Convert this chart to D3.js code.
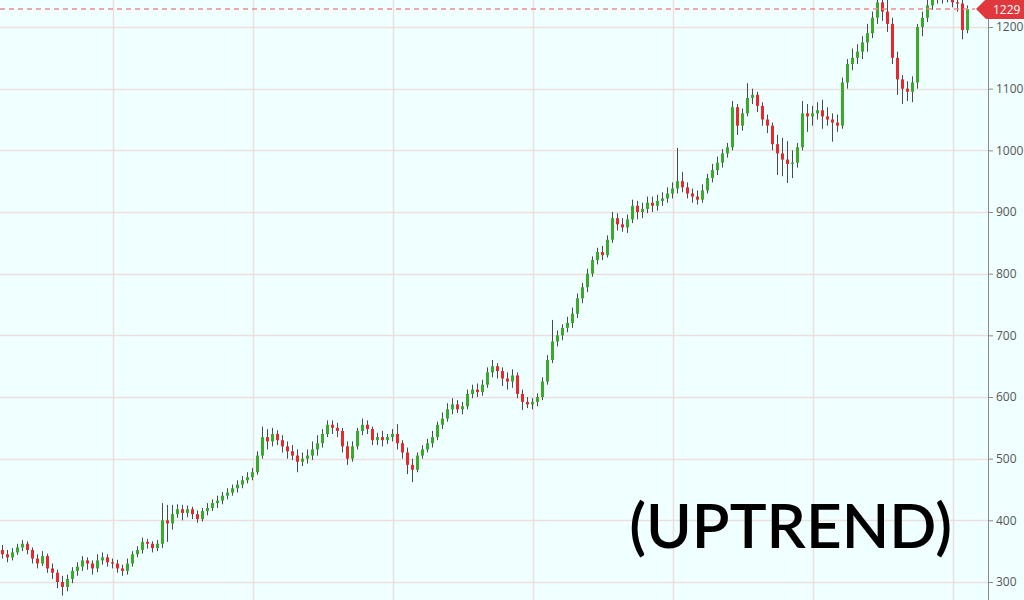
<!DOCTYPE html>
<html><head><meta charset="utf-8">
<script src="https://cdn.jsdelivr.net/npm/d3@7/dist/d3.min.js"></script>
<style>html,body{margin:0;padding:0;background:#f0ffff;overflow:hidden}svg{display:block}</style>
</head><body><svg id="c" width="1024" height="600"></svg>
<script>
const closes = [345,340,348,356,362,352,338,330,342,322,
315,300,292,305,318,325,335,330,322,335,
340,332,330,322,318,330,345,352,365,362,
355,362,400,395,410,418,412,418,410,402,
415,420,428,432,440,445,452,458,465,470,
478,505,535,528,540,530,520,512,505,495,
500,505,515,525,540,555,550,545,520,500,
520,545,555,548,530,535,530,535,540,525,
510,490,482,505,515,525,535,555,565,580,
588,580,585,605,612,608,620,640,650,642,
630,625,635,605,592,588,592,600,625,660,
690,700,712,720,735,760,778,800,822,835,
830,855,890,880,875,888,910,900,905,915,
910,918,922,930,938,950,940,930,925,920,
935,955,968,980,995,1005,1070,1040,1060,1085,
1090,1072,1050,1040,1010,995,985,978,980,1005,
1060,1055,1060,1065,1055,1050,1045,1040,1110,1140,
1150,1160,1175,1190,1215,1240,1225,1205,1150,1115,
1100,1095,1110,1200,1215,1235,1245,1250,1248,1250,
1240,1238,1195,1229];
const opens = [352,345,340,348,356,362,352,338,330,342,
322,315,300,292,305,318,325,335,330,322,
335,340,332,330,322,318,330,345,352,365,
362,355,362,400,395,410,418,412,418,410,
402,415,420,428,432,440,445,452,458,465,
470,478,505,535,528,540,530,520,512,505,
495,500,505,515,525,540,555,550,545,520,
500,520,545,555,548,530,535,530,535,540,
525,510,490,482,505,515,525,535,555,565,
580,588,580,585,605,612,608,620,640,650,
642,630,625,635,605,592,588,592,600,625,
660,690,700,712,720,735,760,778,800,822,
835,830,855,890,880,875,888,910,900,905,
915,910,918,922,930,938,950,940,930,925,
920,935,955,968,980,995,1005,1070,1040,1060,
1085,1090,1072,1050,1040,1010,995,985,978,980,
1005,1060,1055,1060,1065,1055,1050,1045,1040,1110,
1140,1150,1160,1175,1190,1215,1240,1225,1205,1150,
1115,1100,1095,1110,1200,1215,1235,1245,1250,1248,
1250,1240,1238,1195];
const highs = [360,352,355,362,368,366,356,345,350,346,
330,320,310,312,324,332,342,340,335,345,
348,345,338,336,328,338,350,358,372,370,
366,368,428,425,425,426,425,424,422,416,
420,428,434,440,446,452,458,465,472,478,
485,512,552,548,550,546,538,528,522,515,
510,515,528,538,548,562,562,558,550,528,
528,550,565,562,552,542,545,540,548,556,
530,518,500,510,522,532,545,560,575,590,
598,595,592,612,620,622,628,648,660,655,
648,640,645,640,612,600,598,606,632,668,
725,708,718,730,745,768,785,808,828,842,
845,862,900,898,890,896,920,918,915,925,
925,928,932,940,948,1004,965,948,938,935,
945,962,978,990,1002,1012,1080,1075,1068,1109,
1100,1095,1078,1058,1045,1025,1020,1015,1000,1012,
1080,1075,1072,1078,1082,1070,1060,1058,1118,1148,
1165,1172,1185,1205,1225,1260,1262,1245,1215,1160,
1122,1112,1120,1205,1225,1245,1255,1262,1260,1258,
1258,1250,1245,1235];
const lows = [338,332,335,344,350,345,330,322,326,315,
305,290,278,285,298,310,318,320,312,316,
328,325,322,315,310,312,325,340,346,354,
348,350,355,365,385,404,400,405,402,396,
398,408,415,420,426,434,440,445,452,460,
465,474,500,515,520,522,510,500,498,478,
488,492,498,505,518,535,540,535,510,490,
495,515,538,540,522,522,520,524,528,515,
500,475,462,478,500,510,518,530,548,560,
572,574,572,580,598,600,602,615,632,630,
618,612,615,598,579,582,580,585,595,620,
655,682,692,705,712,728,752,770,795,815,
822,826,850,870,868,866,882,888,890,898,
900,902,910,915,922,930,932,922,915,912,
915,930,948,960,972,988,1000,1025,1032,1055,
1075,1062,1040,1028,1000,960,958,947,955,972,
1000,1030,1040,1050,1035,1040,1014,1030,1035,1100,
1130,1140,1148,1160,1182,1205,1210,1192,1140,1090,
1075,1080,1078,1100,1185,1208,1228,1238,1238,1240,
1232,1225,1180,1190];
const yTicks = [300,400,500,600,700,800,900,1000,1100,1200];
const vGridIdx = [22.2,50.2,78.2,106.2,134.2,162.2,190.2];
const lastPrice = 1229;
const titleText = "(UPTREND)";

const svg = d3.select("#c");
const W = 1024, H = 600, axisX = 988;
const x = d3.scaleLinear().domain([0, closes.length - 1]).range([2, 967]);
const y = d3.scaleLinear().domain([300, 1200]).range([582, 27]);

svg.append("rect").attr("width", W).attr("height", H).attr("fill", "#f0ffff");

const grid = svg.append("g");
grid.selectAll("line.h").data(yTicks).join("line")
  .attr("x1", 0).attr("x2", axisX).attr("y1", d => Math.round(y(d)) + 0.5).attr("y2", d => Math.round(y(d)) + 0.5)
  .attr("stroke", "#ecdfe0").attr("stroke-width", 1.5);
grid.selectAll("line.v").data(vGridIdx).join("line")
  .attr("x1", d => Math.round(x(d)) + 0.5).attr("x2", d => Math.round(x(d)) + 0.5).attr("y1", 0).attr("y2", H)
  .attr("stroke", "#ecdfe0").attr("stroke-width", 1.5);

const idx = d3.range(closes.length);
const g = svg.append("g");
g.selectAll("line.w").data(idx).join("line")
  .attr("x1", i => Math.round(x(i)) + 0.5).attr("x2", i => Math.round(x(i)) + 0.5)
  .attr("y1", i => y(highs[i])).attr("y2", i => y(lows[i]))
  .attr("stroke", "#4a4a4a").attr("stroke-width", 1);
g.selectAll("rect.b").data(idx).join("rect")
  .attr("x", i => Math.round(x(i)) - 1)
  .attr("width", 3)
  .attr("y", i => y(Math.max(opens[i], closes[i])))
  .attr("height", i => Math.max(1, Math.abs(y(opens[i]) - y(closes[i]))))
  .attr("fill", i => closes[i] >= opens[i] ? "#3aaa2a" : "#e8282c");

// last price line
svg.append("line").attr("x1", 0).attr("x2", 975).attr("y1", y(lastPrice)).attr("y2", y(lastPrice))
  .attr("stroke", "#f08a8a").attr("stroke-width", 1.5).attr("stroke-dasharray", "5,4");

// axis
svg.append("line").attr("x1", axisX + 0.5).attr("x2", axisX + 0.5).attr("y1", 0).attr("y2", H)
  .attr("stroke", "#8a8a8a").attr("stroke-width", 1);
const ax = svg.append("g").attr("transform", `translate(${axisX},0)`)
  .call(d3.axisRight(y).tickValues(yTicks).tickFormat(d3.format("d")).tickSize(5).tickPadding(3));
ax.select(".domain").remove();
ax.selectAll(".tick line").attr("stroke", "#8a8a8a");
ax.selectAll(".tick text").attr("fill", "#555").attr("font-family", "Open Sans, sans-serif").attr("font-size", 12);

// price tag
const ty = y(lastPrice);
svg.append("path")
  .attr("d", `M976,${ty} L986,${ty-10} L1024,${ty-10} L1024,${ty+10} L986,${ty+10} Z`)
  .attr("fill", "#e0383c");
svg.append("text").attr("x", 993).attr("y", ty + 4.5).text(lastPrice)
  .attr("fill", "#fff").attr("font-family", "Open Sans, sans-serif").attr("font-size", 12);

// title
svg.append("text").attr("x", 952).attr("y", 548).attr("text-anchor", "end")
  .attr("font-family", "Lato, sans-serif").attr("font-weight", 600).attr("font-size", 62)
  .attr("fill", "#000").text(titleText);
</script></body></html>
